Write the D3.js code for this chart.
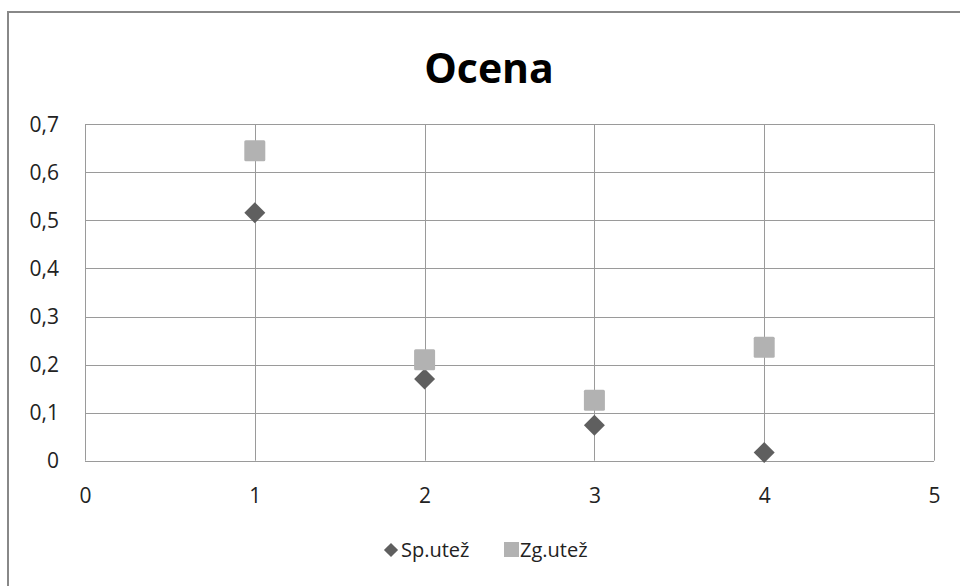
<!DOCTYPE html>
<html><head><meta charset="utf-8">
<script src="https://cdn.jsdelivr.net/npm/d3@7"></script>
<style>body{margin:0;background:#fff}svg{display:block}</style>
</head><body>
<script>
const title = "Ocena";
const xValues = [1, 2, 3, 4];
const spUtez = [0.516, 0.170, 0.074, 0.017];
const zgUtez = [0.645, 0.210, 0.126, 0.236];
const seriesNames = ["Sp.utež", "Zg.utež"];
const xTicks = [0, 1, 2, 3, 4, 5];
const yTicks = [0, 0.1, 0.2, 0.3, 0.4, 0.5, 0.6, 0.7];

const W = 960, H = 586;
const font = "'Open Sans', 'Liberation Sans', sans-serif";
const svg = d3.select("body").append("svg").attr("width", W).attr("height", H);
svg.append("rect").attr("width", W).attr("height", H).attr("fill", "#fff");
// outer border
svg.append("rect").attr("x", 8).attr("y", 12).attr("width", W + 10).attr("height", H + 10)
  .attr("fill", "none").attr("stroke", "#888").attr("stroke-width", 2);

const x = d3.scaleLinear().domain([0, 5]).range([85, 934]);
const y = d3.scaleLinear().domain([0, 0.7]).range([460.7, 124.3]);

svg.append("text").attr("x", 489).attr("y", 83).attr("text-anchor", "middle")
  .attr("font-family", font).attr("font-weight", "bold").attr("font-size", 41)
  .attr("fill", "#000").text(title);

// gridlines
const g = svg.append("g");
g.selectAll(".hy").data(yTicks).join("line")
  .attr("x1", x(0)).attr("x2", x(5)).attr("y1", d => Math.round(y(d)) + 0.5).attr("y2", d => Math.round(y(d)) + 0.5)
  .attr("stroke", "#9a9a9a").attr("stroke-width", 1);
g.selectAll(".vx").data(xTicks).join("line")
  .attr("y1", y(0)).attr("y2", y(0.7)).attr("x1", d => Math.round(x(d)) + 0.5).attr("x2", d => Math.round(x(d)) + 0.5)
  .attr("stroke", "#9a9a9a").attr("stroke-width", 1);

// axes labels via d3 axes
const fmt = d => d === 0 ? "0" : d3.format(".1f")(d).replace(".", ",");
const yAxis = svg.append("g").attr("transform", "translate(70,0)")
  .call(d3.axisLeft(y).tickValues(yTicks).tickFormat(fmt).tickSize(0).tickPadding(11));
yAxis.select(".domain").remove();
yAxis.selectAll("text").attr("font-family", font).attr("font-size", 21).attr("fill", "#222");

const xAxis = svg.append("g").attr("transform", `translate(0,${y(0)})`)
  .call(d3.axisBottom(x).tickValues(xTicks).tickFormat(d3.format("d")).tickSize(0).tickPadding(27));
xAxis.select(".domain").remove();
xAxis.selectAll("text").attr("font-family", font).attr("font-size", 21).attr("fill", "#222");

// markers
const diamond = d3.symbol().type(d3.symbolSquare).size(220);
svg.append("g").selectAll("path").data(xValues).join("path")
  .attr("d", diamond)
  .attr("transform", (d, i) => `translate(${x(d)},${y(spUtez[i])}) rotate(45)`)
  .attr("fill", "#5f5f5f");
svg.append("g").selectAll("rect").data(xValues).join("rect")
  .attr("x", d => x(d) - 10.5).attr("y", (d, i) => y(zgUtez[i]) - 10.5)
  .attr("width", 21).attr("height", 21).attr("rx", 1.5)
  .attr("fill", "#b2b2b2");

// legend
const ly = 550;
svg.append("path").attr("d", d3.symbol().type(d3.symbolSquare).size(100)())
  .attr("transform", `translate(391,${ly}) rotate(45)`).attr("fill", "#5f5f5f");
svg.append("text").attr("x", 401).attr("y", ly + 7).attr("font-family", font).attr("font-size", 20)
  .attr("fill", "#222").text(seriesNames[0]);
svg.append("rect").attr("x", 504).attr("y", ly - 8).attr("width", 15).attr("height", 15).attr("fill", "#b2b2b2");
svg.append("text").attr("x", 520).attr("y", ly + 7).attr("font-family", font).attr("font-size", 20)
  .attr("fill", "#222").text(seriesNames[1]);
</script>
</body></html>
